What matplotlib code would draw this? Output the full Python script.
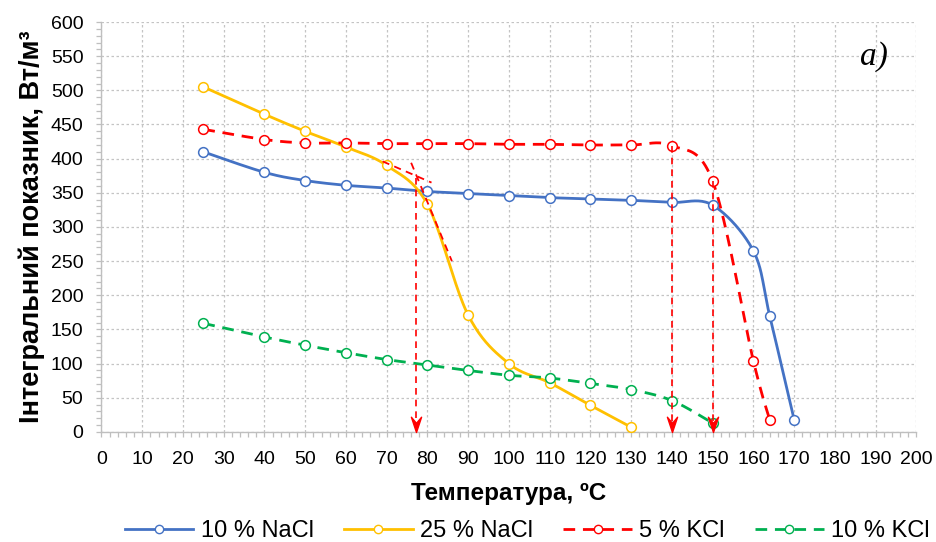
import numpy as np
import matplotlib
matplotlib.use("Agg")
import matplotlib.pyplot as plt
from matplotlib.path import Path
from matplotlib.ticker import MultipleLocator


OUTPUT_FILE = "out.png"

# Series: temperature (degC) and integral index (W/m3)
nacl10_t = [25, 40, 50, 60, 70, 80, 90, 100, 110, 120, 130, 140, 150, 160, 164, 170]
nacl10_v = [410, 380, 368, 361, 357, 352, 349, 346, 343, 341, 339, 336, 332, 265, 170, 18]

nacl25_t = [25, 40, 50, 60, 70, 80, 90, 100, 110, 120, 130]
nacl25_v = [505, 465, 440, 417, 390, 333, 171, 100, 72, 39, 7]

kcl5_t = [25, 40, 50, 60, 70, 80, 90, 100, 110, 120, 130, 140, 150, 160, 164]
kcl5_v = [443, 428, 423, 423, 422, 422, 422, 421, 421, 420, 420, 419, 367, 104, 18]

kcl10_t = [25, 40, 50, 60, 70, 80, 90, 100, 110, 120, 130, 140, 150]
kcl10_v = [159, 139, 127, 116, 106, 98, 90, 83, 79, 71, 62, 46, 13]

# Tangent construction on the 25 % NaCl curve
tangent_flat_t = [69, 81]
tangent_flat_v = [396, 365]
tangent_steep_t = [76, 86]
tangent_steep_v = [394, 250]

# Temperatures marked with arrows down to the axis
arrow_t = [77.2, 140, 150]
arrow_top = [372, 419, 367]

BLUE = "#4472C4"
YELLOW = "#FFC000"
RED = "#FF0000"
GREEN = "#00B050"

# Pixel scale of the axes, used so the smoothing works in screen space
SX = 4.075
SY = 0.683


def smooth(t, v, n=24):
    # Catmull-Rom style bezier through every point
    p = np.column_stack([np.asarray(t, float) * SX, np.asarray(v, float) * SY])
    out = [p[:1]]
    s = np.linspace(0, 1, n)[1:, None]
    for i in range(len(p) - 1):
        p0 = p[i - 1] if i > 0 else p[i]
        p3 = p[i + 2] if i + 2 < len(p) else p[i + 1]
        a, b = p[i], p[i + 1]
        c1 = a + (b - p0) / 6
        c2 = b - (p3 - a) / 6
        seg = ((1 - s) ** 3) * a + 3 * ((1 - s) ** 2) * s * c1 + 3 * (1 - s) * s ** 2 * c2 + s ** 3 * b
        out.append(seg)
    pts = np.vstack(out)
    return pts[:, 0] / SX, pts[:, 1] / SY


def draw_series(ax, t, v, color, dashed, label):
    ls = (0, (4.2, 2.8)) if dashed else "-"
    xs, ys = smooth(t, v)
    ax.plot(xs, ys, color=color, lw=2.0, ls=ls, zorder=3)
    ax.plot(t, v, ls="none", marker="o", ms=7, mfc="white", mec=color,
            mew=1.1, zorder=4)
    # legend proxy
    ax.plot([], [], color=color, lw=2.0, ls=ls, marker="o", ms=6,
            mfc="white", mec=color, mew=1.0, label=label)


def arrow_marker():
    verts = [(0, 0), (-5, 15), (0, 9), (5, 15), (0, 0)]
    codes = [Path.MOVETO, Path.LINETO, Path.LINETO, Path.LINETO, Path.CLOSEPOLY]
    return Path(verts, codes)


def main():
    plt.rcParams["font.family"] = ["Liberation Sans", "DejaVu Sans"]

    fig = plt.figure(figsize=(9.37, 5.42), dpi=100)
    ax = fig.add_axes([0.1083, 0.203, 0.8697, 0.7564])

    ax.set_xlim(0, 200)
    ax.set_ylim(0, 600)
    ax.xaxis.set_major_locator(MultipleLocator(10))
    ax.xaxis.set_minor_locator(MultipleLocator(2))
    ax.yaxis.set_major_locator(MultipleLocator(50))
    ax.yaxis.set_minor_locator(MultipleLocator(10))

    ax.grid(True, which="major", color="#c4c4c4", ls=(0, (2, 2)), lw=0.9)
    ax.set_axisbelow(True)
    for side in ["top", "right"]:
        ax.spines[side].set_visible(False)
    for side in ["left", "bottom"]:
        ax.spines[side].set_color("#bfbfbf")
        ax.spines[side].set_linewidth(1.0)
    ax.tick_params(which="both", direction="out", color="#bfbfbf", length=3.5,
                   width=0.9, labelsize=14)
    ax.tick_params(axis="x", which="major", pad=10)
    ax.tick_params(axis="y", which="major", pad=9.5)

    draw_series(ax, nacl10_t, nacl10_v, BLUE, False, "10 % NaCl")
    draw_series(ax, nacl25_t, nacl25_v, YELLOW, False, "25 % NaCl")
    draw_series(ax, kcl5_t, kcl5_v, RED, True, "5 % KCl")
    draw_series(ax, kcl10_t, kcl10_v, GREEN, True, "10 % KCl")

    # tangent lines
    ax.plot(tangent_flat_t, tangent_flat_v, color=RED, lw=1.3, ls=(0, (4, 3)), zorder=5)
    ax.plot(tangent_steep_t, tangent_steep_v, color=RED, lw=1.3, ls=(0, (4, 3)), zorder=5)

    # dashed drop lines with arrow heads
    head = arrow_marker()
    for t, top in zip(arrow_t, arrow_top):
        ax.plot([t, t], [top, 8], color=RED, lw=1.2, ls=(0, (4, 3)), zorder=5)
        ax.plot([t], [0], ls="none", marker=head, ms=22, color=RED, zorder=6,
                clip_on=False)

    ax.set_xlabel("Температура, ºC", fontsize=17.5, fontweight="bold", labelpad=10)
    ax.set_ylabel("Інтегральний показник, Вт/м³", fontsize=19.5, fontweight="bold",
                  labelpad=4)

    ax.text(0.965, 0.915, "a)", transform=ax.transAxes, fontsize=24,
            family="Liberation Serif", style="italic", ha="right", va="center")

    fig.legend(loc="lower left", bbox_to_anchor=(125 / 937, 0.0), ncol=4,
               frameon=False, fontsize=17, handlelength=2.9, columnspacing=1.3,
               handletextpad=0.3, borderpad=0, borderaxespad=0)

    fig.savefig(OUTPUT_FILE, dpi=100)
    plt.close(fig)


if __name__ == "__main__":
    main()
